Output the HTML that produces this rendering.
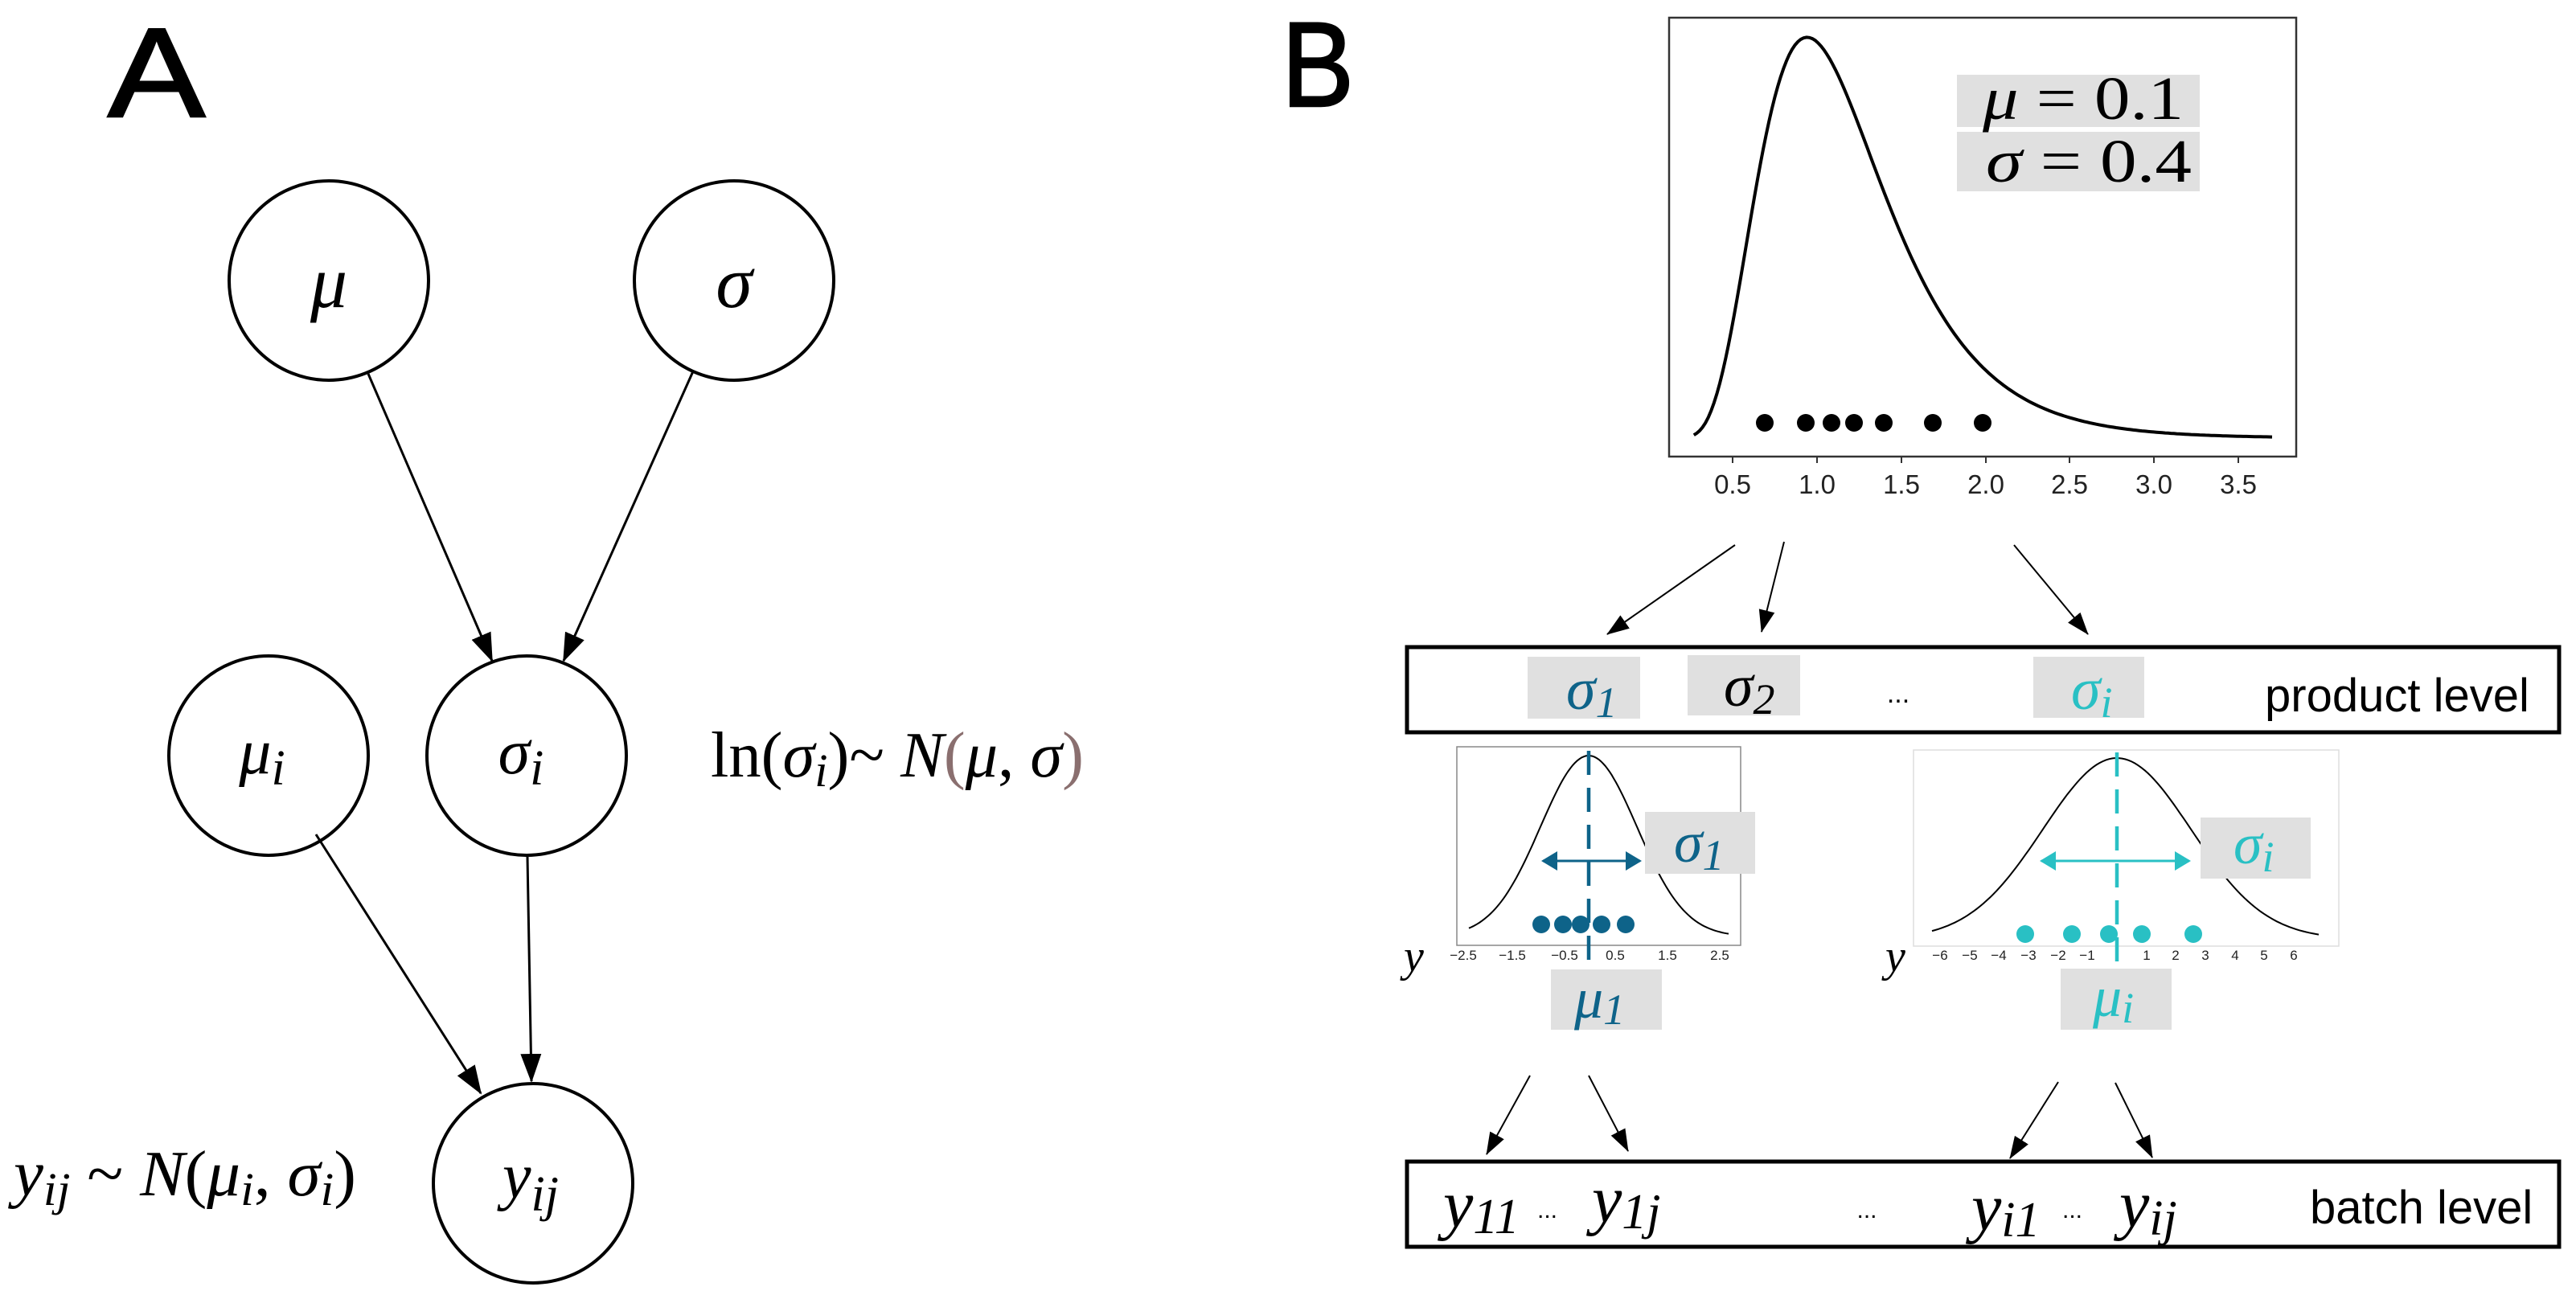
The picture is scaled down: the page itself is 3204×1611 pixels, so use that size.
<!DOCTYPE html>
<html><head><meta charset="utf-8"><style>
html,body{margin:0;padding:0;background:#fff;}
svg{display:block;}
.m{font-family:"Liberation Serif",serif;font-style:italic;}
.r{font-family:"Liberation Serif",serif;}
.s{font-family:"Liberation Sans",sans-serif;}
</style></head><body>
<svg width="3204" height="1611" viewBox="0 0 3204 1611" xmlns="http://www.w3.org/2000/svg">
<defs>
<marker id="ha" markerWidth="36" markerHeight="30" refX="34" refY="15" orient="auto" markerUnits="userSpaceOnUse"><path d="M0,2 L36,15 L0,28 Z" fill="#000"/></marker>
<marker id="hb" markerWidth="28" markerHeight="22" refX="27" refY="11" orient="auto" markerUnits="userSpaceOnUse"><path d="M0,1 L28,11 L0,21 Z" fill="#000"/></marker>
<marker id="hd" markerWidth="20" markerHeight="24" refX="18" refY="12" orient="auto" markerUnits="userSpaceOnUse"><path d="M0,0 L20,12 L0,24 Z" fill="#0e6389"/></marker>
<marker id="hc" markerWidth="20" markerHeight="24" refX="18" refY="12" orient="auto" markerUnits="userSpaceOnUse"><path d="M0,0 L20,12 L0,24 Z" fill="#29c0c4"/></marker>
</defs>

<!-- Panel A -->
<text x="0" y="0" class="s" font-size="158" stroke="#000" stroke-width="2.5" transform="translate(134,145) scale(1.15,1)">A</text>
<g fill="#fff" stroke="#000" stroke-width="4">
<circle cx="409" cy="349" r="124"/>
<circle cx="913" cy="349" r="124"/>
<circle cx="334" cy="940" r="124"/>
<circle cx="655" cy="940" r="124"/>
<circle cx="663" cy="1472" r="124"/>
</g>
<text x="409" y="382" class="m" font-size="92" text-anchor="middle">μ</text>
<text x="913" y="382" class="m" font-size="92" text-anchor="middle">σ</text>
<text x="326" y="962" class="m" font-size="80" text-anchor="middle">μ<tspan font-size="62" dy="14">i</tspan></text>
<text x="648" y="962" class="m" font-size="80" text-anchor="middle">σ<tspan font-size="62" dy="14">i</tspan></text>
<text x="660" y="1490" class="m" font-size="80" text-anchor="middle">y<tspan font-size="62" dy="16">ij</tspan></text>
<g stroke="#000" stroke-width="3" fill="none">
<line x1="458" y1="465" x2="612" y2="822" marker-end="url(#ha)"/>
<line x1="862" y1="462" x2="701" y2="822" marker-end="url(#ha)"/>
<line x1="393" y1="1038" x2="598" y2="1360" marker-end="url(#ha)"/>
<line x1="656" y1="1066" x2="661" y2="1345" marker-end="url(#ha)"/>
</g>
<text x="884" y="966" class="r" font-size="80" textLength="464" lengthAdjust="spacingAndGlyphs">ln(<tspan class="m">σ</tspan><tspan class="m" font-size="58" dy="12">i</tspan><tspan dy="-12">)~ </tspan><tspan class="m">N</tspan><tspan fill="#8a6f6f">(</tspan><tspan class="m">μ</tspan>, <tspan class="m">σ</tspan><tspan fill="#8a6f6f">)</tspan></text>
<text x="17" y="1487" class="r" font-size="80" textLength="426" lengthAdjust="spacingAndGlyphs"><tspan class="m">y</tspan><tspan class="m" font-size="58" dy="12">ij</tspan><tspan dy="-12"> ~ </tspan><tspan class="m">N</tspan>(<tspan class="m">μ</tspan><tspan class="m" font-size="58" dy="12">i</tspan><tspan dy="-12">, </tspan><tspan class="m">σ</tspan><tspan class="m" font-size="58" dy="12">i</tspan><tspan dy="-12">)</tspan></text>

<!-- Panel B -->
<text x="0" y="0" class="s" font-size="150" stroke="#000" stroke-width="2.5" transform="translate(1594,132) scale(0.9,1)">B</text>
<rect x="2076" y="22" width="780" height="546" fill="#fff" stroke="#333" stroke-width="2.5"/>
<path id="ln" d="" fill="none" stroke="#000" stroke-width="4"/>
<g fill="#000">
<circle cx="2195" cy="526" r="11"/><circle cx="2246" cy="526" r="11"/><circle cx="2278" cy="526" r="11"/><circle cx="2306" cy="526" r="11"/><circle cx="2343" cy="526" r="11"/><circle cx="2404" cy="526" r="11"/><circle cx="2466" cy="526" r="11"/>
</g>
<g stroke="#333" stroke-width="2">
<line x1="2155" y1="568" x2="2155" y2="576"/><line x1="2260" y1="568" x2="2260" y2="576"/><line x1="2365" y1="568" x2="2365" y2="576"/><line x1="2470" y1="568" x2="2470" y2="576"/><line x1="2574" y1="568" x2="2574" y2="576"/><line x1="2679" y1="568" x2="2679" y2="576"/><line x1="2784" y1="568" x2="2784" y2="576"/>
</g>
<g class="s" font-size="33" text-anchor="middle" fill="#222">
<text x="2155" y="614">0.5</text><text x="2260" y="614">1.0</text><text x="2365" y="614">1.5</text><text x="2470" y="614">2.0</text><text x="2574" y="614">2.5</text><text x="2679" y="614">3.0</text><text x="2784" y="614">3.5</text>
</g>
<rect x="2434" y="93" width="302" height="65" fill="#e0e0e0"/>
<rect x="2434" y="164" width="302" height="74" fill="#e0e0e0"/>
<text x="2466" y="148" class="r" font-size="76" textLength="250" lengthAdjust="spacingAndGlyphs"><tspan class="m">μ</tspan> = 0.1</text>
<text x="2470" y="226" class="r" font-size="76" textLength="256" lengthAdjust="spacingAndGlyphs"><tspan class="m">σ</tspan> = 0.4</text>

<g stroke="#000" stroke-width="2" fill="none">
<line x1="2158" y1="678" x2="1999" y2="789" marker-end="url(#hb)"/>
<line x1="2219" y1="674" x2="2191" y2="786" marker-end="url(#hb)"/>
<line x1="2505" y1="678" x2="2597" y2="789" marker-end="url(#hb)"/>
</g>
<rect x="1750" y="805" width="1433" height="106" fill="#fff" stroke="#000" stroke-width="5"/>
<rect x="1900" y="817" width="140" height="77" fill="#e0e0e0"/>
<rect x="2099" y="815" width="140" height="75" fill="#e0e0e0"/>
<rect x="2529" y="817" width="138" height="76" fill="#e0e0e0"/>
<text x="1948" y="882" class="m" font-size="74" fill="#0e6389">σ<tspan font-size="54" dy="10" class="r">1</tspan></text>
<text x="2144" y="878" class="m" font-size="74" fill="#000">σ<tspan font-size="54" dy="10" class="r">2</tspan></text>
<text x="2576" y="882" class="m" font-size="74" fill="#29c0c4">σ<tspan font-size="54" dy="10">i</tspan></text>
<text x="2361" y="874" class="s" font-size="34" text-anchor="middle">...</text>
<text x="2817" y="885" class="s" font-size="58">product level</text>

<!-- small plot 1 -->
<rect x="1812" y="929" width="353" height="247" fill="#fff" stroke="#888" stroke-width="1.5"/>
<path id="g1" d="" fill="none" stroke="#000" stroke-width="2"/>
<g fill="#0e6389"><circle cx="1917" cy="1150" r="11"/><circle cx="1944" cy="1150" r="11"/><circle cx="1966" cy="1150" r="11"/><circle cx="1992" cy="1150" r="11"/><circle cx="2022" cy="1150" r="11"/></g>
<line x1="1976" y1="934" x2="1976" y2="1204" stroke="#0e6389" stroke-width="4.5" stroke-dasharray="30,16"/>
<line x1="1950" y1="1071" x2="2040" y2="1071" stroke="#0e6389" stroke-width="3" marker-end="url(#hd)"/>
<line x1="2000" y1="1071" x2="1919" y2="1071" stroke="#0e6389" stroke-width="3" marker-end="url(#hd)"/>
<rect x="2046" y="1010" width="137" height="77" fill="#e0e0e0"/>
<text x="2082" y="1072" class="m" font-size="72" fill="#0e6389">σ<tspan font-size="54" dy="10" class="r">1</tspan></text>
<g class="s" font-size="17" text-anchor="middle" fill="#222">
<text x="1820" y="1194">−2.5</text><text x="1881" y="1194">−1.5</text><text x="1946" y="1194">−0.5</text><text x="2009" y="1194">0.5</text><text x="2074" y="1194">1.5</text><text x="2139" y="1194">2.5</text>
</g>
<text x="1746" y="1208" class="m" font-size="56">y</text>
<rect x="1929" y="1206" width="138" height="75" fill="#e0e0e0"/>
<text x="1958" y="1266" class="m" font-size="72" fill="#0e6389">μ<tspan font-size="54" dy="8" class="r">1</tspan></text>

<!-- small plot 2 -->
<rect x="2380" y="933" width="529" height="244" fill="#fff" stroke="#ddd" stroke-width="1.5"/>
<path id="g2" d="" fill="none" stroke="#000" stroke-width="2"/>
<g fill="#29c0c4"><circle cx="2519" cy="1162" r="11"/><circle cx="2577" cy="1162" r="11"/><circle cx="2623" cy="1162" r="11"/><circle cx="2664" cy="1162" r="11"/><circle cx="2728" cy="1162" r="11"/></g>
<line x1="2633" y1="936" x2="2633" y2="1210" stroke="#29c0c4" stroke-width="4.5" stroke-dasharray="30,16"/>
<line x1="2600" y1="1071" x2="2723" y2="1071" stroke="#29c0c4" stroke-width="3" marker-end="url(#hc)"/>
<line x1="2660" y1="1071" x2="2539" y2="1071" stroke="#29c0c4" stroke-width="3" marker-end="url(#hc)"/>
<rect x="2737" y="1017" width="137" height="76" fill="#e0e0e0"/>
<text x="2778" y="1074" class="m" font-size="72" fill="#29c0c4">σ<tspan font-size="54" dy="10">i</tspan></text>
<g class="s" font-size="17" text-anchor="middle" fill="#222">
<text x="2413" y="1194">−6</text><text x="2450" y="1194">−5</text><text x="2486" y="1194">−4</text><text x="2523" y="1194">−3</text><text x="2560" y="1194">−2</text><text x="2596" y="1194">−1</text><text x="2670" y="1194">1</text><text x="2706" y="1194">2</text><text x="2743" y="1194">3</text><text x="2780" y="1194">4</text><text x="2816" y="1194">5</text><text x="2853" y="1194">6</text>
</g>
<text x="2345" y="1208" class="m" font-size="56">y</text>
<rect x="2563" y="1205" width="138" height="76" fill="#e0e0e0"/>
<text x="2603" y="1264" class="m" font-size="72" fill="#29c0c4">μ<tspan font-size="54" dy="8">i</tspan></text>

<g stroke="#000" stroke-width="2" fill="none">
<line x1="1903" y1="1338" x2="1849" y2="1436" marker-end="url(#hb)"/>
<line x1="1976" y1="1338" x2="2025" y2="1432" marker-end="url(#hb)"/>
<line x1="2560" y1="1346" x2="2500" y2="1441" marker-end="url(#hb)"/>
<line x1="2631" y1="1347" x2="2677" y2="1440" marker-end="url(#hb)"/>
</g>
<rect x="1750" y="1445" width="1433" height="106" fill="#fff" stroke="#000" stroke-width="5"/>
<text x="1795" y="1526" class="m" font-size="84">y<tspan class="r" font-size="62" dy="8">11</tspan></text>
<text x="1912" y="1515" class="s" font-size="30">...</text>
<text x="1980" y="1520" class="m" font-size="84">y<tspan class="r" font-size="62" dy="8">1</tspan><tspan font-size="62">j</tspan></text>
<text x="2322" y="1515" class="s" font-size="30" text-anchor="middle">...</text>
<text x="2452" y="1530" class="m" font-size="84">y<tspan font-size="62" dy="8">i</tspan><tspan class="r" font-size="62">1</tspan></text>
<text x="2565" y="1515" class="s" font-size="30">...</text>
<text x="2636" y="1526" class="m" font-size="84">y<tspan font-size="62" dy="10">ij</tspan></text>
<text x="2873" y="1522" class="s" font-size="58">batch level</text>
</svg>
<script>
(function(){
 function f(n){return n.toFixed(1);}
 var d="",mu=0.1,s=0.4;
 for(var i=0;i<=200;i++){var v=0.27+(3.7-0.27)*i/200;
  var p=Math.exp(-Math.pow(Math.log(v)-mu,2)/(2*s*s))/(v*s*Math.sqrt(2*Math.PI));
  var x=2155+(v-0.5)*209.7,y=545-p*510;
  d+=(i?"L":"M")+f(x)+","+f(y);}
 document.getElementById("ln").setAttribute("d",d);
 function g(id,cx,sig,x0,x1,top,base){var d="";
  for(var i=0;i<=120;i++){var x=x0+(x1-x0)*i/120;var p=Math.exp(-Math.pow(x-cx,2)/(2*sig*sig));
   d+=(i?"L":"M")+f(x)+","+f(base-(base-top)*p);}
  document.getElementById(id).setAttribute("d",d);}
 g("g1",1976,60,1827,2150,940,1165);
 g("g2",2633,92,2403,2884,943,1168);
})();
</script>
</body></html>
